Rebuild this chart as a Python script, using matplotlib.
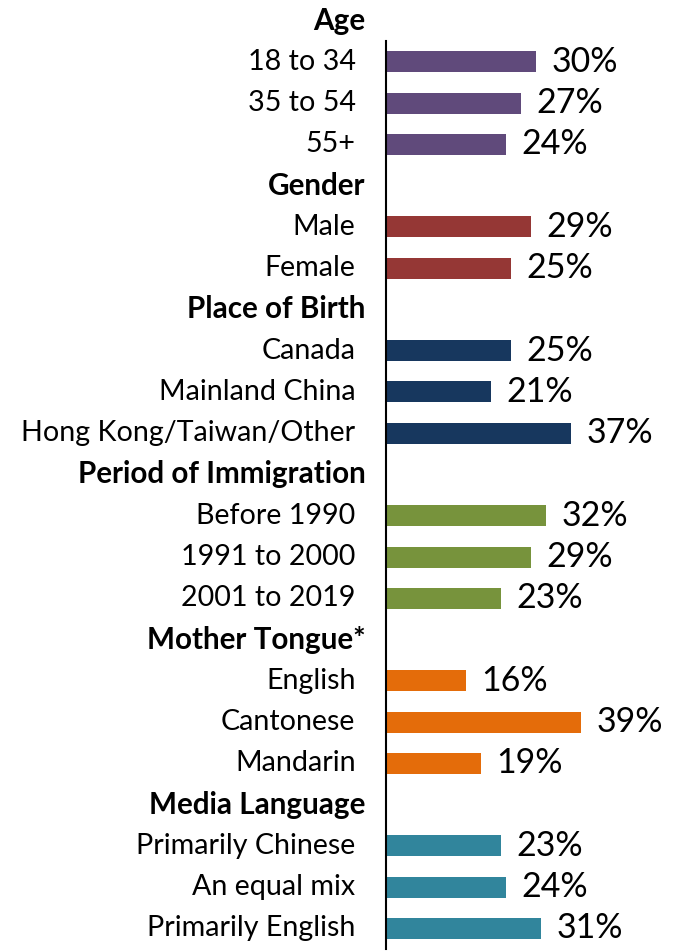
import matplotlib
matplotlib.use('Agg')
import matplotlib.pyplot as plt

plt.rcParams['font.family'] = ['Lato', 'DejaVu Sans']

# groups, their items, values (%) and bar colours
groups = ['Age', 'Gender', 'Place of Birth', 'Period of Immigration',
          'Mother Tongue*', 'Media Language']
items = [['18 to 34', '35 to 54', '55+'],
         ['Male', 'Female'],
         ['Canada', 'Mainland China', 'Hong Kong/Taiwan/Other'],
         ['Before 1990', '1991 to 2000', '2001 to 2019'],
         ['English', 'Cantonese', 'Mandarin'],
         ['Primarily Chinese', 'An equal mix', 'Primarily English']]
values = [[30, 27, 24],
          [29, 25],
          [25, 21, 37],
          [32, 29, 23],
          [16, 39, 19],
          [23, 24, 31]]
colors = ['#604A7B', '#953735', '#17375E', '#77933C', '#E46C0A', '#31859C']

fig = plt.figure(figsize=(6.79, 9.52), dpi=100)
ax = fig.add_axes([385.5 / 679, 3.0 / 952, 1 - 385.5 / 679, 1 - 3.0 / 952])

row = 0
for g, its, vals, col in zip(groups, items, values, colors):
    ax.text(-4.0, row, g, ha='right', va='center', fontsize=21.3,
            fontweight='bold', clip_on=False)
    row += 1
    for it, v in zip(its, vals):
        ax.barh(row, v, height=0.51, color=col)
        ax.text(-6.0, row, it, ha='right', va='center', fontsize=20.6,
                clip_on=False)
        ax.text(v + 3.2, row, f'{v}%', ha='left', va='center', fontsize=24.5)
        row += 1

ax.set_ylim(row - 0.5, -0.5)
ax.set_xlim(0, 58.7)
for s in ['top', 'right', 'bottom']:
    ax.spines[s].set_visible(False)
ax.spines['left'].set_bounds(0.5, row - 0.5)
ax.spines['left'].set_linewidth(1.5)
ax.set_xticks([])
ax.set_yticks([])

plt.savefig('out.png', dpi=100)
plt.close(fig)
